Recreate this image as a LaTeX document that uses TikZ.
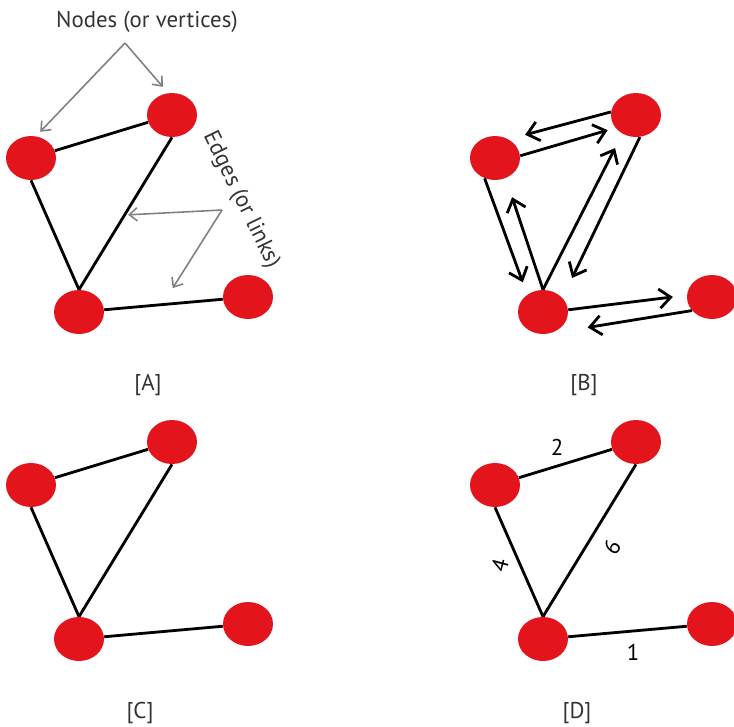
\documentclass[tikz,border=0pt]{standalone}
\usepackage{fontspec}
\setmainfont{PT Sans}
\usetikzlibrary{shapes.geometric,arrows.meta}
\definecolor{rouge}{RGB}{228,20,28}
\newcommand{\sommets}[1]{\node[noeud] (#1l) at (31,158) {};
	\node[noeud] (#1t) at (172,115) {};
	\node[noeud] (#1b) at (79,312) {};
	\node[noeud] (#1r) at (248,297) {}}
\newcommand{\aretes}[1]{\draw[epais] (#1l) -- (#1t);
	\draw[epais] (#1l.south) -- (#1b.north);
	\draw[epais] (#1t.south) -- coordinate[pos=0.51] (#1tb) (#1b.north);
	\draw[epais] (#1b) -- coordinate[pos=0.49] (#1br) (#1r)}
\newcommand{\fleche}[3]{\draw[epais,-{Straight Barb[length=6.5pt,width=11pt]},
	shorten >=#3] (#1) -- (#2)}
\newcommand{\gris}[3]{\draw[fin,-{Straight Barb[length=4.5pt,width=7.5pt]},
	shorten >=#3] (#1) -- (#2)}

\begin{document}
\begin{tikzpicture}[x=0.02cm, y=-0.02cm,
	noeud/.style={ellipse, fill=rouge, minimum width=1cm, minimum height=0.88cm, inner sep=0pt},
	epais/.style={line width=1.6pt, black},
	fin/.style={line width=0.9pt, black!50},
	texte/.style={font=\fontsize{13pt}{15pt}\selectfont, text=black!80, inner sep=0pt}]
\useasboundingbox (0,0) rectangle (734,727);
%Graph A
	\sommets{A};
	\aretes{A};
	\node[texte] (noeuds) at (147,22) {Nodes (or vertices)};
	\node[texte, rotate=-64] (liens) at (241,200) {Edges (or links)};
	\coordinate (hautN) at (125,43);
	\coordinate (hautE) at (222,210);
	\gris{hautN}{Al.77}{0.12cm};
	\gris{hautN}{At.100}{0.16cm};
	\gris{hautE}{Atb}{0.07cm};
	\gris{hautE}{Abr}{0.39cm};
	\node[texte] (nomA) at (148,385) {[A]};
%Graph B
\begin{scope}[shift={(464,0)}]
	\sommets{B};
	\fleche{Bl.5}{Bt.212}{0.16cm};
	\fleche{Bt.173}{Bl.54}{0.34cm};
	\fleche{Bl.243}{Bb.132}{0.26cm};
	\fleche{Bb.north}{Bl.298}{0.4cm};
	\fleche{Bb.north}{Bt.234}{0.32cm};
	\fleche{Bt.280}{Bb.36}{0.44cm};
	\fleche{Bb.5}{Br.176}{0.28cm};
	\fleche{Br.214}{Bb.286}{0.78cm};
	\node[texte] (nomB) at (120,385) {[B]};
\end{scope}
%Graph C
\begin{scope}[shift={(0,327)}]
	\sommets{C};
	\aretes{C};
	\node[texte] (nomC) at (140,386) {[C]};
\end{scope}
%Graph D
\begin{scope}[shift={(464,327)}]
	\sommets{D};
	\aretes{D};
	\node[texte, text=black] (poids2) at (93,120) {2};
	\node[texte, text=black, rotate=75] (poids4) at (36,238) {4};
	\node[texte, text=black, rotate=60] (poids6) at (148,220) {6};
	\node[texte, text=black] (poids1) at (169,325) {1};
	\node[texte] (nomD) at (113,386) {[D]};
\end{scope}
\end{tikzpicture}
\end{document}
